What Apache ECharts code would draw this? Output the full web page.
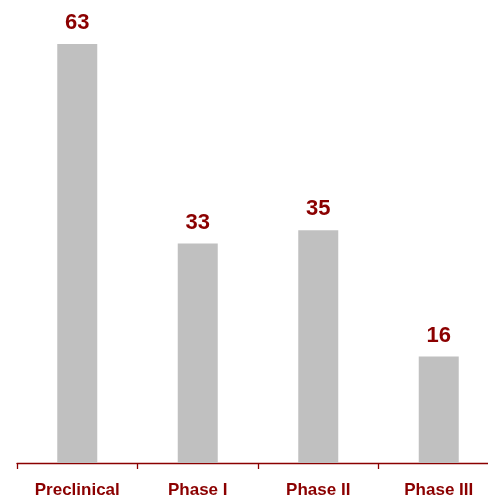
<!DOCTYPE html>
<html><head><meta charset="utf-8">
<script src="https://cdn.jsdelivr.net/npm/echarts@6/dist/echarts.min.js"></script>
<style>html,body{margin:0;padding:0;background:#fff;overflow:hidden;width:488px;height:499px}#c{width:499px;height:499px}</style>
</head><body><div id="c"></div>
<script>
const categories = ['Preclinical', 'Phase I', 'Phase II', 'Phase III'];
const values = [63, 33, 35, 16];
const red = '#8B0000';
const chart = echarts.init(document.getElementById('c'), null, {renderer: 'canvas'});
chart.setOption({
  animation: false,
  grid: {left: 17, right: 0, top: 44, bottom: 36, containLabel: false},
  xAxis: {
    type: 'category', data: categories,
    axisLine: {lineStyle: {color: red, width: 1.3}},
    axisTick: {show: true, length: 6, lineStyle: {color: red, width: 1.3}},
    axisLabel: {color: red, fontWeight: 'bold', fontSize: 17, fontFamily: 'Liberation Sans, Arial, sans-serif', margin: 19}
  },
  yAxis: {type: 'value', min: 0, max: 63, show: false, splitLine: {show: false}},
  series: [{
    type: 'bar', data: values, barWidth: 40,
    itemStyle: {color: '#C0C0C0'},
    label: {show: true, position: 'top', distance: 10, color: red, fontWeight: 'bold', fontSize: 22, fontFamily: 'Liberation Sans, Arial, sans-serif'}
  }]
});
</script></body></html>
